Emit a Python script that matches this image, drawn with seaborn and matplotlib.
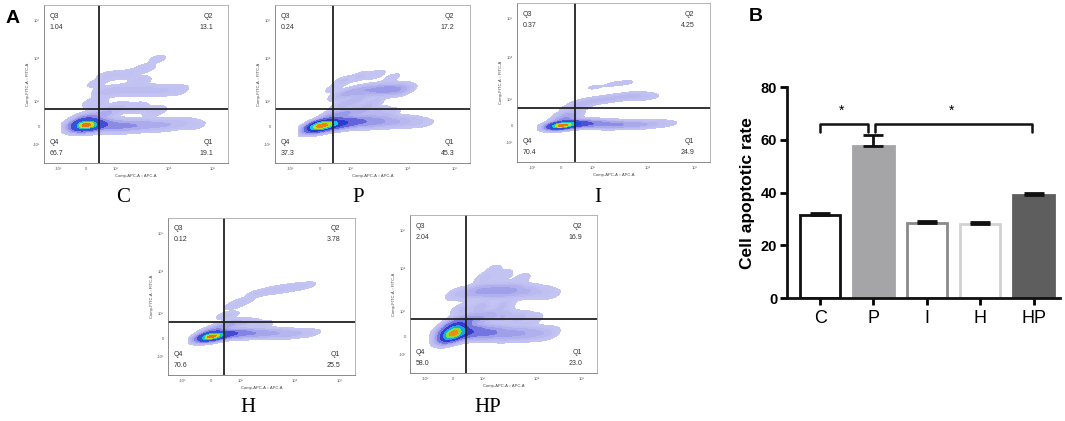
import numpy as np
import pandas as pd
import seaborn as sns
import matplotlib.pyplot as plt
from matplotlib.colors import LinearSegmentedColormap

# ---- panel B data ----
groups = ["C", "P", "I", "H", "HP"]
rate_mean = [31.5, 57.5, 28.5, 28.0, 39.0]
rate_sem = [0.8, 4.5, 0.8, 1.0, 0.8]
bar_face = ["#ffffff", "#a4a4a9", "#ffffff", "#ffffff", "#5e5e5e"]
bar_edge = ["#111111", "#a4a4a9", "#8a8a8a", "#d2d2d2", "#5e5e5e"]

# ---- panel A data: quadrant percentages (Q3, Q2, Q4, Q1) ----
quad_C = ["1.04", "13.1", "66.7", "19.1"]
quad_P = ["0.24", "17.2", "37.3", "45.3"]
quad_I = ["0.37", "4.25", "70.4", "24.9"]
quad_H = ["0.12", "3.78", "70.6", "25.5"]
quad_HP = ["2.04", "16.9", "58.0", "23.0"]

# population anchor points (x, y, weight), axis units 0-100
pts_C = [(22, 24, 30), (25, 24, 15), (20, 25, 8), (27, 23.5, 8), (23, 28, 4),
         (31, 24, 4), (35, 24, 3), (40, 23.5, 3), (45, 23.5, 2.5), (50, 23.5, 2),
         (55, 24, 1.5), (60, 24, 1.2), (65, 24, 1), (70, 24.5, 0.8), (76, 25, 0.5),
         (82, 24, 0.3), (30, 30, 1.5), (35, 32, 1), (40, 35, 0.8), (50, 35, 0.6),
         (60, 33, 0.5), (28, 38, 0.6), (33, 45, 0.7), (40, 46, 0.8), (48, 46, 0.8),
         (56, 46, 0.8), (64, 46, 0.7), (72, 46, 0.5), (35, 55, 0.4), (45, 56, 0.4),
         (55, 60, 0.3), (62, 66, 0.2), (52, 52, 0.4), (28, 50, 0.2)]
pts_P = [(21, 23.5, 25), (24, 23.5, 25), (27, 24, 18), (30, 24.5, 12), (34, 25, 9),
         (38, 25.5, 7), (43, 26, 5), (48, 26, 4), (53, 26, 3), (58, 26, 2),
         (63, 26, 1.5), (68, 26, 1), (73, 25.5, 0.6), (78, 25, 0.3), (32, 30, 3),
         (38, 32, 2.5), (45, 33, 2), (52, 32, 1.5), (58, 31, 1), (28, 30, 1.5),
         (35, 37, 1.5), (42, 40, 1.5), (50, 38, 1), (34, 43, 1.5), (40, 45, 2),
         (46, 46, 2.5), (52, 46.5, 3), (57, 46.5, 3.5), (62, 46.5, 3), (66, 46, 1.5),
         (35, 52, 0.6), (44, 55, 0.6), (52, 56, 0.5), (60, 54, 0.4), (30, 47, 0.4)]
pts_I = [(21.5, 23, 25), (24, 23, 20), (27, 23.5, 12), (30, 24, 8), (25, 27, 4),
         (34, 24, 5), (38, 24, 4), (43, 24, 3.5), (48, 23.5, 3), (53, 23.5, 2.5),
         (58, 23.5, 2), (63, 23.5, 1.5), (68, 23.5, 1), (73, 24, 0.6), (78, 24, 0.3),
         (27, 30, 2), (30, 34, 1.5), (34, 37, 1.2), (40, 38.5, 1), (46, 39.5, 0.9),
         (52, 40.5, 0.9), (58, 41.5, 1), (63, 41.5, 0.8), (68, 41, 0.4),
         (40, 47, 0.2), (50, 49, 0.2), (57, 50, 0.2)]
pts_H = [(22, 24.5, 30), (25, 24.5, 15), (28, 25.5, 8), (24, 28, 3),
         (32, 26, 5), (36, 26.5, 4), (40, 26.5, 3), (45, 26.5, 2.5), (50, 26.5, 2),
         (55, 26.5, 1.5), (60, 26.5, 1.2), (65, 26, 0.9), (70, 26.5, 0.6), (76, 26.5, 0.4),
         (30, 31, 2), (35, 33, 1.2), (42, 33, 0.8), (50, 32, 0.5), (32, 38, 0.5),
         (40, 47, 0.4), (48, 52, 0.4), (56, 54, 0.5), (62, 55, 0.5), (68, 56, 0.4),
         (74, 57, 0.3), (35, 44, 0.3)]
pts_HP = [(23, 25, 30), (21, 23, 12), (25, 28, 12), (27, 25, 10), (20, 27, 6), (24, 31, 5),
          (32, 26, 6), (36, 26, 5), (41, 25.5, 4), (46, 25.5, 3.5), (52, 25, 3),
          (58, 25, 2.5), (64, 25, 2), (70, 25, 1.2), (75, 25, 0.6),
          (30, 33, 3), (35, 34, 2.5), (42, 36, 2), (50, 36, 1.5), (58, 35, 1.2),
          (65, 34, 0.8), (28, 40, 1), (38, 42, 1.2), (50, 43, 1),
          (25, 50, 0.8), (32, 51, 1.5), (38, 52, 2.5), (44, 52, 3), (50, 52, 3),
          (56, 52, 2.5), (63, 51.5, 1.5), (70, 51, 0.8), (76, 50, 0.4),
          (40, 60, 0.6), (50, 62, 0.5), (45, 66, 0.3), (60, 60, 0.4)]

tick_pos_x = [8, 23, 39, 68, 92]
tick_pos_y = [12, 23, 39, 66, 90]
tick_text = ["-10³", "0", "10³", "10⁴", "10⁵"]
gate_x, gate_y = 30, 34

sns.set_theme(style="white")
plt.rcParams["font.family"] = ["Liberation Sans", "DejaVu Sans"]
plt.rcParams["text.color"] = "black"
plt.rcParams["axes.labelcolor"] = "black"
plt.rcParams["xtick.color"] = "black"
plt.rcParams["ytick.color"] = "black"

fig = plt.figure(figsize=(10.65, 4.21), dpi=100)

flow_cmap = LinearSegmentedColormap.from_list(
    "flow", ["#c4c4f2", "#8a8ae6", "#4c4cd6", "#2a36c8", "#1c6ae2", "#10c8e6",
             "#28d070", "#b8e020", "#f2c010", "#e02a10"])

panels = [
    ("C", pts_C, quad_C, [0.0413, 0.6128, 0.1728, 0.3753], (123, 198)),
    ("P", pts_P, quad_P, [0.2582, 0.6128, 0.1831, 0.3753], (358, 197)),
    ("I", pts_I, quad_I, [0.4854, 0.6152, 0.1812, 0.3777], (598, 197)),
    ("H", pts_H, quad_H, [0.1577, 0.1093, 0.1756, 0.3729], (248, 408)),
    ("HP", pts_HP, quad_HP, [0.3850, 0.1140, 0.1756, 0.3753], (488, 408)),
]

for name, pts, quad, rect, lab in panels:
    ax = fig.add_axes(rect)
    df = pd.DataFrame(pts, columns=["x", "y", "w"])
    sns.kdeplot(data=df, x="x", y="y", weights="w", fill=True, cmap=flow_cmap,
                levels=[0.01, 0.04, 0.09, 0.16, 0.26, 0.38, 0.52, 0.66, 0.8, 0.92, 1.0],
                bw_adjust=0.38, ax=ax)
    ax.axvline(gate_x, color="#222222", lw=1.3)
    ax.axhline(gate_y, color="#222222", lw=1.3)
    ax.set_xlim(0, 100)
    ax.set_ylim(0, 100)
    ax.set_xticks(tick_pos_x)
    ax.set_xticklabels(tick_text, fontsize=3)
    ax.set_yticks(tick_pos_y)
    ax.set_yticklabels(tick_text, fontsize=3)
    ax.tick_params(length=2, width=0.5, pad=1, colors="#555555")
    ax.set_xlabel("Comp-APC-A :: APC-A", fontsize=3, labelpad=2, color="#444444")
    ax.set_ylabel("Comp-FITC-A :: FITC-A", fontsize=3, labelpad=2, color="#444444")
    for s in ax.spines.values():
        s.set_color("#aaaaaa")
        s.set_linewidth(0.6)
    ax.spines["left"].set_color("#777777")
    ax.spines["bottom"].set_color("#777777")
    kw = dict(transform=ax.transAxes, fontsize=5, color="#333333")
    ax.text(0.03, 0.93, "Q3", va="center", **kw)
    ax.text(0.03, 0.86, quad[0], va="center", **kw)
    ax.text(0.92, 0.93, "Q2", ha="right", va="center", **kw)
    ax.text(0.92, 0.86, quad[1], ha="right", va="center", **kw)
    ax.text(0.03, 0.13, "Q4", va="center", **kw)
    ax.text(0.03, 0.06, quad[2], va="center", **kw)
    ax.text(0.92, 0.13, "Q1", ha="right", va="center", **kw)
    ax.text(0.92, 0.06, quad[3], ha="right", va="center", **kw)
    fig.text(lab[0] / 1065, 1 - lab[1] / 421, name, ha="center", va="center",
             fontsize=15, family=["Liberation Serif", "DejaVu Serif"])

# ---- panel B ----
axb = fig.add_axes([0.739, 0.292, 0.256, 0.501])
bdf = pd.DataFrame({"group": groups, "rate": rate_mean})
sns.barplot(data=bdf, x="group", y="rate", hue="group", palette=bar_face,
            legend=False, width=0.76, ax=axb)
for patch, ec in zip(axb.patches, bar_edge):
    patch.set_edgecolor(ec)
    patch.set_linewidth(2)
axb.errorbar(range(len(groups)), rate_mean,
             yerr=[np.zeros(len(groups)), rate_sem],
             fmt="none", ecolor="#111111", elinewidth=2, capsize=7, capthick=2)
axb.set_ylim(0, 80)
axb.set_xlim(-0.62, 4.49)
axb.set_yticks([0, 20, 40, 60, 80])
axb.set_yticklabels(["0", "20", "40", "60", "80"], fontweight="bold", fontsize=10.5)
axb.tick_params(axis="x", labelsize=13, length=5, width=2, bottom=True)
axb.tick_params(axis="y", length=5, width=2, left=True, pad=2)
axb.set_xlabel("")
axb.set_ylabel("Cell apoptotic rate", fontweight="bold", fontsize=12.5, labelpad=4)
sns.despine(ax=axb)
for s in ["left", "bottom"]:
    axb.spines[s].set_linewidth(2)
    axb.spines[s].set_color("#111111")

# significance brackets
axb.plot([0, 0, 0.9, 0.9], [63, 66, 66, 63], color="#111111", lw=1.8)
axb.plot([1.02, 1.02, 3.98, 3.98], [63, 66, 66, 63], color="#111111", lw=1.8)
axb.text(0.4, 71, "*", ha="center", va="center", fontsize=10)
axb.text(2.47, 71, "*", ha="center", va="center", fontsize=10)

fig.text(0.005, 0.955, "A", fontsize=14, fontweight="bold", va="center")
fig.text(0.703, 0.96, "B", fontsize=14, fontweight="bold", va="center")

fig.savefig("out.png", dpi=100)
